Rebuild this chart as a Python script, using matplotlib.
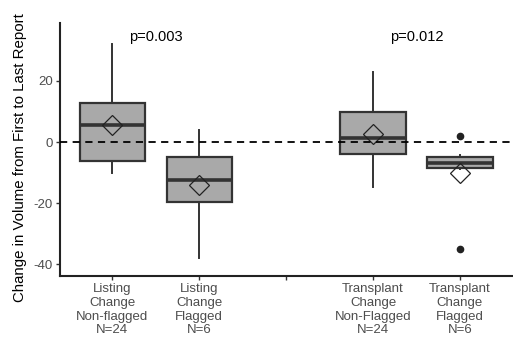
import numpy as np
import matplotlib
matplotlib.use("Agg")
import matplotlib.pyplot as plt

plt.rcParams['font.family'] = ['Liberation Sans', 'DejaVu Sans']

# box statistics (positions 1,2 = listing, 4,5 = transplant)
positions = [1, 2, 4, 5]
labels = ["Listing\nChange\nNon-flagged\nN=24", "Listing\nChange\nFlagged\nN=6", "",
          "Transplant\nChange\nNon-Flagged\nN=24", "Transplant\nChange\nFlagged\nN=6"]
q1 = [-6.3, -19.7, -3.9, -8.6]
med = [5.5, -12.5, 1.2, -7.0]
q3 = [12.8, -5.0, 9.9, -4.8]
whislo = [-10.0, -38.0, -14.9, -8.7]
whishi = [32.0, 4.0, 23.0, -4.2]
means = [5.5, -14.0, 2.5, -10.1]
fliers = [[], [], [], [2.0, -35.1]]
pvals = ["p=0.003", "p=0.012"]
p_x = [1.5, 4.5]

stats = []
for i in range(len(positions)):
    stats.append(dict(q1=q1[i], med=med[i], q3=q3[i], whislo=whislo[i],
                      whishi=whishi[i], fliers=fliers[i], mean=means[i]))

fig = plt.figure(figsize=(5.13, 3.43), dpi=100)
ax = fig.add_axes([60/513, 1 - 276/343, 453/513, 253/343])

edge = "#333333"
ax.bxp(stats, positions=positions, widths=0.75, patch_artist=True, showcaps=False,
       showmeans=False,
       boxprops=dict(facecolor="#a9a9a9", edgecolor=edge, linewidth=1.6),
       medianprops=dict(color=edge, linewidth=2.6),
       whiskerprops=dict(color=edge, linewidth=1.4),
       flierprops=dict(marker="o", markerfacecolor="#222222", markeredgecolor="#222222",
                       markersize=4.5))

ax.plot(positions, means, linestyle="none", marker="D", markersize=10,
        markerfacecolor="none", markeredgecolor="#222222", markeredgewidth=0.9, zorder=4)

ax.axhline(0, color="black", linestyle=(0, (4, 3)), linewidth=1.3, zorder=5)

for x, t in zip(p_x, pvals):
    ax.text(x, 34.4, t, ha="center", va="center", fontsize=10.5, color="black")

ax.set_xlim(0.4, 5.61)
ax.set_ylim(-43.9, 39)
ax.set_xticks([1, 2, 3, 4, 5])
ax.set_xticklabels(labels, fontsize=9.5, color="#4d4d4d", linespacing=1.2)
ax.set_yticks([-40, -20, 0, 20])
ax.set_yticklabels(["-40", "-20", "0", "20"], fontsize=9.5, color="#4d4d4d")
ax.tick_params(direction="out", length=3, width=1, color="#333333", pad=2)
ax.set_ylabel("Change in Volume from First to Last Report", fontsize=10.8, color="black")
ax.yaxis.set_label_coords(-0.073, 0.47)

for s in ["top", "right"]:
    ax.spines[s].set_visible(False)
for s in ["left", "bottom"]:
    ax.spines[s].set_linewidth(1.5)
    ax.spines[s].set_color("#222222")

fig.savefig("out.png", dpi=100)
